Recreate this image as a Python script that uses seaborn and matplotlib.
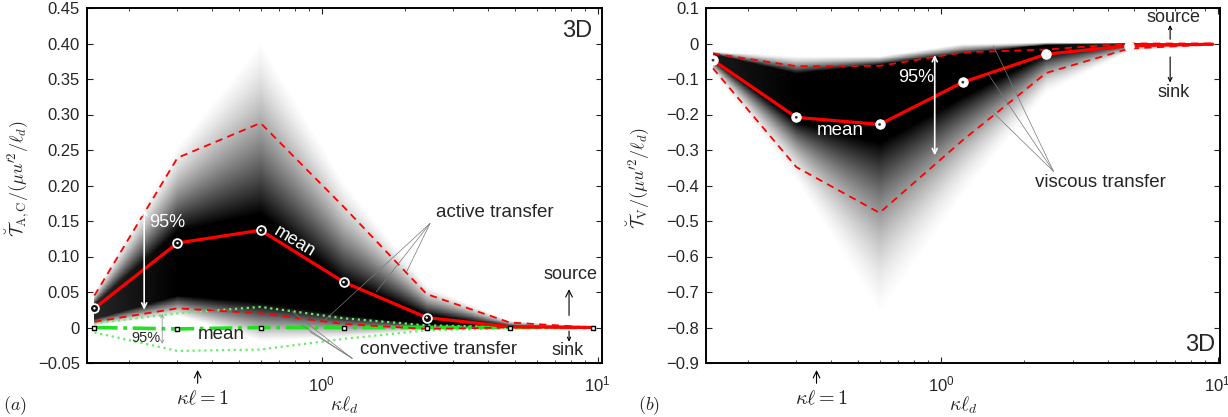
import numpy as np
import matplotlib
matplotlib.use("Agg")
import matplotlib.pyplot as plt
import seaborn as sns

# ---------------- data ----------------
kld = [0.15, 0.3, 0.6, 1.2, 2.4, 4.8, 9.6]          # kappa * l_d
kappa_ell_1 = 0.355                                  # position of kappa*l = 1

# (a) active / convective transfer
act_mean = [0.027, 0.119, 0.137, 0.064, 0.014, 0.001, 0.0]
act_hi = [0.045, 0.239, 0.288, 0.170, 0.047, 0.007, 0.0]
act_lo = [0.008, 0.027, 0.020, 0.005, -0.002, 0.0, 0.0]
conv_mean = [0.0, -0.002, 0.0, 0.0, 0.0, 0.0, 0.0]
conv_hi = [0.006, 0.020, 0.029, 0.013, 0.003, 0.0005, 0.0]
conv_lo = [-0.007, -0.033, -0.031, -0.016, -0.004, -0.001, 0.0]
# PDF shading of active transfer (extent, dense core, peak darkness)
act_env_top = [0.050, 0.260, 0.410, 0.210, 0.060, 0.010, 0.001]
act_env_bot = [0.002, 0.016, -0.020, -0.015, -0.004, -0.001, -0.0005]
act_core_hi = [0.033, 0.135, 0.160, 0.065, 0.018, 0.003, 0.0]
act_core_lo = [0.012, 0.045, 0.035, 0.018, 0.004, 0.0, 0.0]
act_peak = [0.85, 1.0, 1.0, 1.0, 1.0, 0.8, 0.3]

# (b) viscous transfer
visc_mean = [-0.047, -0.208, -0.228, -0.109, -0.030, -0.006, -0.002]
visc_hi = [-0.028, -0.064, -0.063, -0.025, -0.017, 0.0, 0.0]
visc_lo = [-0.070, -0.348, -0.477, -0.272, -0.083, -0.014, -0.003]
visc_env_top = [-0.022, -0.035, -0.035, 0.000, 0.003, 0.002, 0.0]
visc_env_bot = [-0.085, -0.400, -0.800, -0.450, -0.150, -0.025, -0.004]
visc_core_hi = [-0.030, -0.085, -0.060, -0.030, -0.004, 0.0, 0.0]
visc_core_lo = [-0.050, -0.220, -0.280, -0.150, -0.030, -0.006, -0.002]
visc_peak = [0.9, 1.0, 1.0, 1.0, 1.0, 0.8, 0.3]

left_yticks = [-0.05, 0.0, 0.05, 0.10, 0.15, 0.20, 0.25, 0.30, 0.35, 0.40, 0.45]
left_ylabels = ["\u22120.05", "0", "0.05", "0.10", "0.15", "0.20", "0.25",
                "0.30", "0.35", "0.40", "0.45"]
right_yticks = [-0.9, -0.8, -0.7, -0.6, -0.5, -0.4, -0.3, -0.2, -0.1, 0.0, 0.1]
right_ylabels = ["\u22120.9", "\u22120.8", "\u22120.7", "\u22120.6", "\u22120.5",
                 "\u22120.4", "\u22120.3", "\u22120.2", "\u22120.1", "0", "0.1"]
xticks = [1, 10]
xticklabels = [r"$\mathregular{10^{0}}$", r"$\mathregular{10^{1}}$"]

# ---------------- style ----------------
sns.set_theme(style="ticks")
plt.rcParams["font.family"] = ["Liberation Sans", "DejaVu Sans"]
plt.rcParams["mathtext.fontset"] = "cm"
plt.rcParams["axes.linewidth"] = 1.4

fig = plt.figure(figsize=(12.28, 4.17), dpi=100)
axL = fig.add_axes([87 / 1228, (417 - 363) / 417, 515 / 1228, 355 / 417])
axR = fig.add_axes([706 / 1228, (417 - 363) / 417, 514 / 1228, 355 / 417])

RED = "#ff0000"
GREEN = "#22e022"
LGREEN = "#66ee66"


def shade(ax, top, bot, chi, clo, peak, ylim, p_up, p_lo):
    lx = np.log10(kld)
    xs = np.logspace(lx[0], lx[-1], 500)
    ys = np.linspace(ylim[0], ylim[1], 800)
    L = np.log10(xs)
    T = np.interp(L, lx, top)[None, :]
    B = np.interp(L, lx, bot)[None, :]
    CH = np.interp(L, lx, chi)[None, :]
    CL = np.interp(L, lx, clo)[None, :]
    PK = np.interp(L, lx, peak)[None, :]
    Y = ys[:, None]
    up = np.clip((Y - CH) / (T - CH + 1e-9), 0, 1)
    dn = np.clip((CL - Y) / (CL - B + 1e-9), 0, 1)
    inten = PK * (1 - up) ** p_up * (1 - dn) ** p_lo
    inten[(Y > T) | (Y < B)] = 0
    ax.pcolormesh(xs, ys, np.ma.masked_less(inten, 0.01), cmap="gray_r",
                  vmin=0, vmax=1, shading="nearest", rasterized=True, zorder=1)


def setup(ax, xlim, ylim, yt, ytl, ylabel, lab_x):
    ax.set_xscale("log")
    ax.set_xlim(*xlim)
    ax.set_ylim(*ylim)
    ax.set_yticks(yt)
    ax.set_yticklabels(ytl)
    ax.set_xticks(xticks)
    ax.set_xticklabels(xticklabels)
    ax.tick_params(which="both", direction="in", top=True, right=True,
                   labelsize=12, color="#222")
    ax.tick_params(which="major", length=4, width=0.8, pad=5)
    ax.tick_params(which="minor", length=2.5, width=0.6)
    ax.tick_params(axis="x", which="major", pad=8)
    for s in ax.spines.values():
        s.set_visible(True)
        s.set_color("black")
    ax.set_ylabel(ylabel, fontsize=13)
    ax.yaxis.set_label_coords(lab_x, 0.52)
    ax.set_xlabel(r"$\kappa\ell_d$", fontsize=14)
    ax.xaxis.set_label_coords(0.5, -0.088)
    # kappa*l = 1 marker
    tr = ax.get_xaxis_transform()
    ax.annotate("", xy=(kappa_ell_1, -0.012), xytext=(kappa_ell_1, -0.065),
                xycoords=tr, textcoords=tr, annotation_clip=False,
                arrowprops=dict(arrowstyle="->", lw=0.8, color="black"))
    ax.text(kappa_ell_1 * 1.04, -0.1, r"$\kappa\ell = 1$", transform=tr,
            ha="center", va="center", fontsize=14.5, clip_on=False)


def leader(ax, start, ends):
    for e in ends:
        ax.annotate("", xy=e, xytext=start, xycoords="axes fraction",
                    textcoords="axes fraction",
                    arrowprops=dict(arrowstyle="-", lw=0.5, color="#777",
                                    shrinkA=0, shrinkB=0), zorder=7)


# ================= (a) =================
ax = axL
ylimL = (-0.05, 0.45)
shade(ax, act_env_top, act_env_bot, act_core_hi, act_core_lo, act_peak,
      ylimL, 1.5, 1.2)
sns.lineplot(x=kld, y=conv_hi, ax=ax, color=LGREEN, lw=1.6, linestyle=":",
             sort=False, zorder=3)
sns.lineplot(x=kld, y=conv_lo, ax=ax, color=LGREEN, lw=1.6, linestyle=":",
             sort=False, zorder=3)
sns.lineplot(x=kld, y=conv_mean, ax=ax, color=GREEN, lw=2.6, linestyle="-.",
             sort=False, zorder=4)
sns.lineplot(x=kld, y=act_hi, ax=ax, color=RED, lw=1.3, linestyle=(0, (4, 3)),
             sort=False, zorder=4)
sns.lineplot(x=kld, y=act_lo, ax=ax, color=RED, lw=1.3, linestyle=(0, (4, 3)),
             sort=False, zorder=4)
sns.lineplot(x=kld, y=act_mean, ax=ax, color=RED, lw=2.3, sort=False, zorder=5)
sns.scatterplot(x=kld, y=conv_mean, ax=ax, marker="s", s=9,
                facecolor="white", edgecolor="black", linewidth=1.0, zorder=6)
sns.scatterplot(x=kld[:5], y=act_mean[:5], ax=ax, marker="o", s=40,
                facecolor="#111", edgecolor="white", linewidth=1.3, zorder=6)
sns.scatterplot(x=kld[:5], y=act_mean[:5], ax=ax, marker="o", s=3,
                facecolor="white", edgecolor="none", zorder=7)
setup(ax, (0.141, 10.36), ylimL, left_yticks, left_ylabels,
      r"$\breve{\mathcal{T}}_{\mathrm{A,C}}/(\mu u^{\prime 2}/\ell_d)$", -0.108)

ax.text(0.952, 0.935, "3D", transform=ax.transAxes, ha="center", va="center",
        fontsize=17)
# 95% white arrow and labels
ax.annotate("", xy=(0.111, 0.435), xytext=(0.111, 0.150),
            xycoords="axes fraction",
            arrowprops=dict(arrowstyle="<->", lw=1.2, color="white",
                            shrinkA=0, shrinkB=0, mutation_scale=9), zorder=8)
ax.text(0.155, 0.395, "95%", transform=ax.transAxes, ha="center",
        va="center", fontsize=13, color="white", zorder=8)
ax.text(0.402, 0.342, "mean", transform=ax.transAxes, ha="center",
        va="center", fontsize=13, color="white", rotation=-31, zorder=8)
ax.text(0.792, 0.424, "active transfer", transform=ax.transAxes,
        ha="center", va="center", fontsize=13.5, zorder=8)
leader(ax, (0.666, 0.393), [(0.621, 0.258), (0.562, 0.201), (0.462, 0.121)])
ax.text(0.682, 0.037, "convective transfer", transform=ax.transAxes,
        ha="center", va="center", fontsize=13.5, zorder=8)
leader(ax, (0.515, 0.013), [(0.398, 0.145), (0.417, 0.107), (0.433, 0.088)])
ax.annotate("", xy=(0.146, 0.138), xytext=(0.146, 0.054),
            xycoords="axes fraction",
            arrowprops=dict(arrowstyle="<->", lw=0.5, color="#888",
                            shrinkA=0, shrinkB=0, mutation_scale=6), zorder=8)
ax.text(0.115, 0.070, "95%", transform=ax.transAxes, ha="center",
        va="center", fontsize=10.5, zorder=8)
ax.text(0.26, 0.079, "mean", transform=ax.transAxes, ha="center",
        va="center", fontsize=13.5, zorder=8)
ax.text(0.938, 0.249, "source", transform=ax.transAxes, ha="center",
        va="center", fontsize=13, zorder=8)
ax.annotate("", xy=(0.936, 0.208), xytext=(0.936, 0.134),
            xycoords="axes fraction",
            arrowprops=dict(arrowstyle="->", lw=0.8, color="black",
                            shrinkA=0, shrinkB=0), zorder=8)
ax.text(0.934, 0.034, "sink", transform=ax.transAxes, ha="center",
        va="center", fontsize=13, zorder=8)
ax.annotate("", xy=(0.936, 0.060), xytext=(0.936, 0.090),
            xycoords="axes fraction",
            arrowprops=dict(arrowstyle="->", lw=0.8, color="black",
                            shrinkA=0, shrinkB=0, mutation_scale=6), zorder=8)
fig.text(15 / 1228, 1 - 406 / 417, r"$(a)$", ha="center", va="center",
         fontsize=13)

# ================= (b) =================
ax = axR
ylimR = (-0.9, 0.1)
shade(ax, visc_env_top, visc_env_bot, visc_core_hi, visc_core_lo, visc_peak,
      ylimR, 1.3, 1.9)
sns.lineplot(x=kld, y=visc_hi, ax=ax, color=RED, lw=1.3,
             linestyle=(0, (4, 3)), sort=False, zorder=4)
sns.lineplot(x=kld, y=visc_lo, ax=ax, color=RED, lw=1.3,
             linestyle=(0, (4, 3)), sort=False, zorder=4)
sns.lineplot(x=kld, y=visc_mean, ax=ax, color=RED, lw=2.3, sort=False,
             zorder=5)
sns.scatterplot(x=kld[:6], y=visc_mean[:6], ax=ax, marker="o", s=45,
                facecolor="white", edgecolor="white", linewidth=0.8, zorder=6)
sns.scatterplot(x=kld[:4], y=visc_mean[:4], ax=ax, marker="o", s=4,
                facecolor="#333", edgecolor="none", zorder=7)
setup(ax, (0.1415, 10.2), ylimR, right_yticks, right_ylabels,
      r"$\breve{\mathcal{T}}_{\mathrm{V}}/(\mu u^{\prime 2}/\ell_d)$", -0.105)

ax.text(0.962, 0.05, "3D", transform=ax.transAxes, ha="center",
        va="center", fontsize=17)
ax.annotate("", xy=(0.445, 0.868), xytext=(0.445, 0.585),
            xycoords="axes fraction",
            arrowprops=dict(arrowstyle="<->", lw=1.2, color="white",
                            shrinkA=0, shrinkB=0, mutation_scale=9), zorder=8)
ax.text(0.408, 0.804, "95%", transform=ax.transAxes, ha="center",
        va="center", fontsize=13, color="white", zorder=8)
ax.text(0.262, 0.656, "mean", transform=ax.transAxes, ha="center",
        va="center", fontsize=13.5, color="white", zorder=8)
ax.text(0.767, 0.509, "viscous transfer", transform=ax.transAxes,
        ha="center", va="center", fontsize=13.5, zorder=8)
leader(ax, (0.676, 0.54), [(0.559, 0.705), (0.549, 0.814), (0.559, 0.894)])
ax.text(0.910, 0.974, "source", transform=ax.transAxes, ha="center",
        va="center", fontsize=13, zorder=8)
ax.annotate("", xy=(0.903, 0.952), xytext=(0.903, 0.912),
            xycoords="axes fraction",
            arrowprops=dict(arrowstyle="->", lw=0.8, color="black",
                            shrinkA=0, shrinkB=0, mutation_scale=6), zorder=8)
ax.text(0.910, 0.762, "sink", transform=ax.transAxes, ha="center",
        va="center", fontsize=13, zorder=8)
ax.annotate("", xy=(0.903, 0.790), xytext=(0.903, 0.862),
            xycoords="axes fraction",
            arrowprops=dict(arrowstyle="->", lw=0.8, color="black",
                            shrinkA=0, shrinkB=0, mutation_scale=7), zorder=8)
fig.text(649 / 1228, 1 - 406 / 417, r"$(b)$", ha="center", va="center",
         fontsize=13)

fig.savefig("out.png", dpi=100)
